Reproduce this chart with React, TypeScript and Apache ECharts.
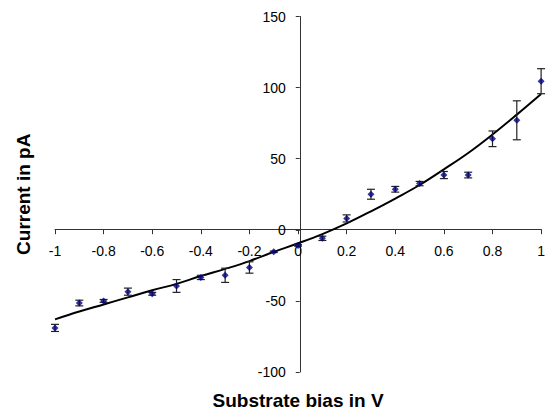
import React, { useEffect, useRef } from "react";
import * as echarts from "echarts";

const biasV = [-1, -0.9, -0.8, -0.7, -0.6, -0.5, -0.4, -0.3, -0.2, -0.1, 0, 0.1, 0.2, 0.3, 0.4, 0.5, 0.6, 0.7, 0.8, 0.9, 1];
const currentPA = [-69, -51.5, -50, -43.5, -45, -39.5, -33.5, -32, -26.5, -15.5, -11, -6, 8, 25, 28.5, 32.5, 38.5, 38.5, 64, 77, 104.5];
const errorPA = [2.5, 2, 1, 2.5, 1, 4.5, 1.5, 5, 4, 0.5, 0.5, 1.5, 2.5, 3.5, 2, 1.5, 2.5, 2, 5.5, 13.7, 8.8];
const fitPA = [-63, -57.5, -52.5, -47.5, -42.5, -38, -32.5, -27.5, -22, -15.5, -9.5, -3, 4.5, 13, 22, 31.5, 42.5, 54, 67, 81, 95.5];

const xTitle = "Substrate bias in V";
const yTitle = "Current in pA";

const X_MIN = -1, X_MAX = 1, X_STEP = 0.2;
const Y_MIN = -100, Y_MAX = 150, Y_STEP = 50;

const W = 548, H = 415;
const G = { left: 55, right: 3.5, top: 16.5, bottom: 41.5 };

export default function App() {
  const ref = useRef<HTMLDivElement>(null);
  useEffect(() => {
    if (!ref.current) return;
    const chart = echarts.init(ref.current, null, { renderer: "svg" });
    const font = "'Liberation Sans', Arial, sans-serif";
    const plotW = W - G.left - G.right;
    const plotH = H - G.top - G.bottom;
    // move the axes so they cross at zero (line, ticks and labels together)
    const xAxisOffset = -plotH * (0 - Y_MIN) / (Y_MAX - Y_MIN);
    const yAxisOffset = -plotW * (0 - X_MIN) / (X_MAX - X_MIN);
    const errData = biasV.map((x, i) => [x, currentPA[i] - errorPA[i], currentPA[i] + errorPA[i]]);
    const axisColor = "#333";
    const hidden = {
      axisLine: { show: false },
      axisTick: { show: false },
      axisLabel: { show: false },
      splitLine: { show: false },
    };
    chart.setOption({
      animation: false,
      backgroundColor: "#ffffff",
      grid: { ...G },
      xAxis: [
        {
          type: "value",
          min: X_MIN,
          max: X_MAX,
          interval: X_STEP,
          position: "bottom",
          offset: xAxisOffset,
          axisLine: { onZero: false, lineStyle: { color: axisColor, width: 1 } },
          axisTick: { show: true, inside: false, length: 5, lineStyle: { color: axisColor } },
          axisLabel: { margin: 15, fontSize: 14, color: "#000", fontFamily: font },
          splitLine: { show: false },
        },
        {
          type: "value",
          min: X_MIN,
          max: X_MAX,
          position: "bottom",
          ...hidden,
          name: xTitle,
          nameLocation: "middle",
          nameGap: 19,
          nameTextStyle: { fontSize: 19, fontWeight: "bold", color: "#000", fontFamily: font },
        },
      ],
      yAxis: [
        {
          type: "value",
          min: Y_MIN,
          max: Y_MAX,
          interval: Y_STEP,
          position: "left",
          offset: yAxisOffset,
          axisLine: { show: true, onZero: false, lineStyle: { color: axisColor, width: 1 } },
          axisTick: { show: true, inside: false, length: 4, lineStyle: { color: axisColor } },
          axisLabel: { margin: 14, fontSize: 14, color: "#000", fontFamily: font },
          splitLine: { show: false },
        },
        {
          type: "value",
          min: Y_MIN,
          max: Y_MAX,
          position: "left",
          ...hidden,
          name: yTitle,
          nameLocation: "middle",
          nameRotate: 90,
          nameGap: 22,
          nameTextStyle: { fontSize: 19, fontWeight: "bold", color: "#000", fontFamily: font },
        },
      ],
      series: [
        {
          type: "line",
          data: biasV.map((x, i) => [x, fitPA[i]]),
          smooth: 0.4,
          showSymbol: false,
          lineStyle: { color: "#000", width: 2 },
          z: 3,
        },
        {
          type: "custom",
          data: errData,
          clip: false,
          encode: { x: 0, y: [1, 2] },
          renderItem: (params: any, api: any) => {
            const x = api.value(0);
            const lo = api.coord([x, api.value(1)]);
            const hi = api.coord([x, api.value(2)]);
            const hw = 4;
            const style = { stroke: "#222", lineWidth: 1.2 };
            return {
              type: "group",
              children: [
                { type: "line", shape: { x1: lo[0], y1: lo[1], x2: hi[0], y2: hi[1] }, style },
                { type: "line", shape: { x1: lo[0] - hw, y1: lo[1], x2: lo[0] + hw, y2: lo[1] }, style },
                { type: "line", shape: { x1: hi[0] - hw, y1: hi[1], x2: hi[0] + hw, y2: hi[1] }, style },
              ],
            };
          },
          z: 4,
        },
        {
          type: "scatter",
          data: biasV.map((x, i) => [x, currentPA[i]]),
          symbol: "diamond",
          symbolSize: 7,
          itemStyle: { color: "#000080" },
          z: 5,
        },
      ],
    });
    return () => chart.dispose();
  }, []);
  return (
    <div
      ref={ref}
      style={{ position: "fixed", left: 0, top: 0, width: W, height: H, background: "#fff" }}
    />
  );
}
